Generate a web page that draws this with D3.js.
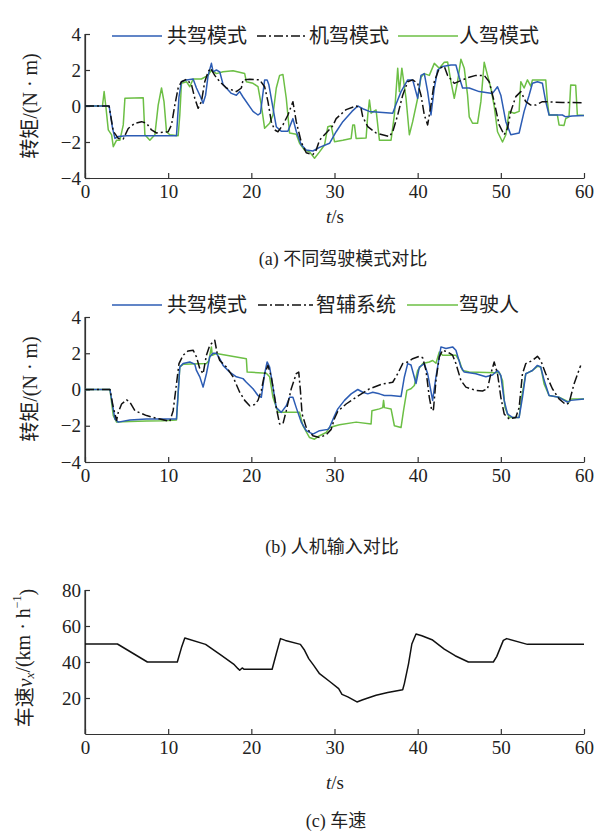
<!DOCTYPE html>
<html lang="en">
<head>
<meta charset="utf-8">
<title>转矩与车速对比</title>
<script src="https://d3js.org/d3.v7.min.js"></script>
<style>
  body { margin: 0; background: #fff; }
  .axis path, .axis line { stroke: #333; stroke-width: 1.2; }
</style>
</head>
<body>
<script>
// ---- data, each point is [t (s), value] ----
const xTicks = [0, 10, 20, 30, 40, 50, 60];
const torqueTicks = [-4, -2, 0, 2, 4];
const speedTicks = [20, 40, 60, 80];

const legendA = ["共驾模式", "机驾模式", "人驾模式"];
const legendB = ["共驾模式", "智辅系统", "驾驶人"];

// (a) 不同驾驶模式对比
const aShared = [[0,0],[2.9,0],[3.3,-1.2],[3.6,-1.8],[4.0,-1.7],[5,-1.65],[8,-1.65],[11,-1.65],[11.3,0.5],[11.6,1.35],[12.2,1.45],[13,1.5],[13.4,1.0],[13.9,0.5],[14.2,0.15],[14.5,0.6],[14.8,1.7],[15.2,2.37],[15.4,1.9],[15.8,2.0],[16.2,1.9],[16.6,1.2],[17.6,0.7],[18.2,0.6],[18.6,0.8],[19,0.5],[20.2,-0.3],[20.8,-0.5],[21.1,-0.4],[21.6,1.45],[21.9,1.45],[22.1,1.2],[22.6,-0.1],[23,-1.15],[23.6,-1.4],[24.4,-1.4],[25,-0.7],[25.4,-1.4],[26,-2.15],[26.6,-2.45],[27.4,-2.5],[28.2,-2.3],[29.4,-2.07],[30.2,-1.43],[31,-0.87],[32.1,-0.3],[32.8,0],[33.4,-0.15],[34.2,-0.3],[37,-0.4],[37.4,0.1],[38,0.8],[38.8,1.45],[39.4,1.45],[40,0.43],[40.4,1.7],[40.8,1.8],[41.2,0.8],[41.6,-0.5],[42,1.0],[42.4,2.0],[43,2.2],[44,2.28],[44.6,2.28],[45,1.6],[45.4,1.0],[46.2,1.0],[47.4,0.8],[49,0.7],[49.6,1.07],[50,0.6],[50.6,-0.87],[51.2,-1.6],[52.2,-1.5],[52.8,-0.3],[53.4,0.6],[53.8,1.26],[54.4,1.35],[55,1.26],[55.4,0.24],[55.8,-0.5],[57.4,-0.5],[57.8,-0.6],[58.6,-0.55],[60,-0.53]];
const aMachine = [[0,0],[2.9,0],[3.4,-1.4],[4,-1.8],[4.6,-1.83],[5.2,-1.25],[6,-0.96],[6.8,-0.87],[7.4,-0.96],[8,-1.33],[8.6,-1.5],[10,-1.43],[10.4,-1.05],[10.8,0.05],[11.2,1.0],[11.6,1.35],[12.2,1.48],[12.8,1.2],[13.2,0.43],[13.6,-0.13],[14,0.24],[14.4,1.35],[14.8,1.9],[15.1,2.1],[15.6,1.7],[16.2,1.35],[17,1.0],[18.2,0.8],[18.8,1.0],[19,1.45],[19.8,1.48],[21,1.45],[21.6,1.07],[22,0.24],[22.4,-0.87],[22.8,-1.33],[23.2,-1.43],[23.8,-1.05],[24.4,-0.5],[25,0.24],[25.4,-0.87],[26,-2.0],[26.6,-2.6],[27.4,-2.7],[27.8,-2.45],[28.2,-1.9],[29,-1.5],[29.8,-1.1],[30.2,-0.7],[31.4,-0.2],[32.6,0],[33.2,-0.15],[33.4,-0.6],[34,-1.15],[35,-1.5],[36.6,-1.7],[37,-1.43],[37.6,-0.5],[38.2,0.6],[38.8,1.35],[39.4,1.45],[40,1.26],[40.4,0.6],[40.8,-0.5],[41.2,-1.05],[41.6,0.05],[42,1.35],[42.6,2.1],[43.2,2.2],[43.6,1.7],[44.4,1.26],[45.4,1.45],[46.2,1.6],[47,1.7],[48,1.7],[48.6,1.35],[49.2,0.24],[49.8,-1.05],[50.4,-1.6],[50.8,-1.25],[51.2,-0.3],[51.8,0.52],[52.4,0.8],[53,0.24],[53.6,0.05],[54.2,0.05],[55,0.24],[57.4,0.2],[60,0.18]];
const aHuman = [[0,0],[2.1,0],[2.3,0.8],[2.5,0],[2.8,-1.33],[3.2,-1.6],[3.4,-2.26],[3.8,-1.9],[4.2,-1.9],[4.6,-1.05],[4.8,0.43],[7,0.46],[7.2,-1.6],[7.8,-1.9],[8.4,-1.6],[8.8,0.05],[9.2,1.0],[9.5,0.24],[9.8,-1.43],[10.2,-1.6],[11.2,-1.65],[11.4,-0.5],[11.6,1.26],[12.2,1.35],[12.6,1.07],[13,1.5],[14,1.5],[14.8,1.7],[15.2,2.0],[15.8,1.8],[16.6,1.9],[17.8,1.96],[19.2,1.8],[19.4,1.35],[20.2,1.26],[20.8,1.07],[21.2,0.05],[21.6,-1.24],[22.2,-0.96],[22.6,-0.5],[23,1.0],[23.4,1.7],[23.8,1.75],[24.2,0.43],[24.6,-1.5],[25.4,-1.57],[25.8,-2.07],[26.4,-2.45],[27,-2.55],[27.6,-2.9],[28.2,-2.55],[28.8,-2.17],[29.2,-1.15],[29.6,-1.1],[30,-1.98],[31,-1.9],[32,-1.8],[32.2,-1.05],[32.4,-1.05],[32.6,-1.8],[33.8,-1.78],[34,-0.5],[34.2,0.33],[34.4,-0.4],[35,-0.22],[35.4,-1.9],[36.8,-1.9],[37.2,-0.5],[37.6,2.1],[37.8,0.8],[38.1,2.1],[38.6,0.43],[39,-1.6],[39.4,-0.87],[40,0.43],[40.4,1.6],[40.8,1.8],[41.4,1.7],[42,2.37],[42.6,2.1],[43.2,2.43],[43.6,2.45],[44,1.35],[44.4,0.43],[44.8,1.35],[45.2,2.6],[45.6,2.1],[46,0.6],[46.2,-0.6],[46.6,-0.96],[47.2,-0.96],[47.6,0.24],[48,2.43],[48.4,1.7],[48.8,1.0],[49.2,0.0],[49.6,-1.43],[50.2,-2.0],[50.6,-1.6],[51,-0.3],[51.6,-0.4],[52.2,-0.3],[52.4,1.35],[52.8,1.0],[53.2,1.45],[53.6,1.1],[53.8,1.45],[55.4,1.45],[55.6,0.24],[55.8,-0.5],[56.8,-0.5],[57,-1.05],[57.6,-1.08],[57.8,-0.7],[58.2,-0.6],[58.4,1.17],[59,1.15],[59.2,-0.5],[60,-0.53]];

// (b) 人机输入对比
const bShared = [[0,0],[3,0],[3.6,-1.63],[4,-1.8],[5.4,-1.68],[7.4,-1.63],[11,-1.63],[11.4,1.24],[11.8,1.43],[12.6,1.52],[13.2,1.4],[13.4,1.05],[13.8,0.7],[14.2,0.13],[14.6,0.87],[15,1.8],[15.4,2.0],[15.8,2.0],[16.2,1.7],[16.6,1.33],[17.4,0.96],[18.2,0.7],[19,0.6],[19.4,0.4],[20.2,0.04],[20.8,-0.33],[21.2,-0.43],[21.6,0.87],[21.9,1.52],[22.2,1.24],[22.6,0.13],[23,-1.0],[23.6,-1.26],[24.2,-0.9],[24.6,-0.43],[25,-0.43],[25.4,-1.0],[26,-1.8],[26.6,-2.27],[27.4,-2.46],[28.2,-2.27],[29.2,-2.2],[29.4,-2.1],[30,-1.45],[30.4,-1.07],[31.2,-0.6],[32,-0.24],[32.8,0],[33.4,-0.15],[34,-0.24],[34.6,-0.15],[35.4,-0.24],[36,-0.33],[36.8,-0.33],[38,-0.39],[38.4,0.69],[38.8,1.43],[39.2,1.35],[39.8,0.33],[40.2,1.24],[40.8,1.43],[41.2,0.87],[41.8,-0.6],[42.2,0.7],[42.6,1.8],[42.8,2.35],[43.4,2.26],[44.2,2.35],[44.6,2.17],[45.2,1.24],[45.6,0.96],[47,0.87],[48.2,0.7],[49,0.8],[49.6,1.05],[50,0.78],[50.4,-0.6],[50.8,-1.35],[51.4,-1.54],[52.2,-1.54],[52.6,-0.43],[53,0.87],[53.4,0.96],[53.8,1.05],[54.4,1.33],[54.8,1.24],[55.2,0.52],[55.8,-0.33],[57,-0.43],[58,-0.7],[58.4,-0.6],[60,-0.52]];
const bAssist = [[0,0],[3,0],[3.4,-1.0],[3.8,-1.7],[4,-1.26],[4.4,-0.8],[5,-0.57],[5.4,-0.7],[6,-1.17],[7.4,-1.44],[9,-1.63],[10.2,-1.76],[10.6,-1.17],[11,0.31],[11.3,1.43],[11.8,1.89],[12.4,2.13],[13,2.17],[13.4,1.8],[13.8,1.15],[14.2,0.87],[14.6,1.89],[15,2.44],[15.6,2.72],[15.9,1.98],[16.2,1.6],[17,1.24],[17.8,0.7],[18.6,-0.15],[19.2,-0.6],[19.8,-0.9],[20.4,-0.83],[20.8,-0.6],[21.2,-0.05],[21.6,0.87],[22,1.33],[22.4,0.7],[23,-1.0],[23.4,-1.9],[23.8,-1.9],[24.2,-1.17],[24.8,0.04],[25.4,0.87],[25.7,0.96],[25.9,-0.05],[26.1,-1.35],[26.6,-2.09],[27.4,-2.55],[28.2,-2.65],[29,-2.5],[29.6,-2.2],[30,-1.6],[30.4,-1.2],[31.4,-0.8],[32.6,-0.43],[34.2,0.04],[35.8,0.31],[37,0.4],[37.6,0.87],[38.2,1.43],[38.8,1.52],[39.4,1.7],[40.2,1.83],[40.6,1.75],[41,1.05],[41.4,-0.43],[41.7,-1.17],[41.9,-1.1],[42.2,0.5],[42.6,1.8],[43,2.17],[43.6,2.07],[44.2,1.89],[44.6,1.43],[45.2,0.5],[45.8,0.13],[47,-0.05],[47.8,-0.08],[48.4,0.04],[48.8,0.87],[49.2,1.52],[49.6,0.87],[50,-0.43],[50.4,-1.35],[51,-1.63],[51.8,-1.54],[52.2,-1.0],[52.6,0.87],[53,1.43],[53.8,1.6],[54.4,1.83],[54.8,1.6],[55.4,0.87],[56.2,0.04],[57,-0.52],[57.8,-0.83],[58.2,-0.75],[58.8,0.31],[59.6,1.33]];
const bDriver = [[0,0],[3,0],[3.4,-1.44],[3.8,-1.8],[5.4,-1.76],[7.4,-1.74],[9.4,-1.72],[11,-1.68],[11.4,1.24],[11.8,1.39],[14.6,1.43],[14.9,1.6],[15.2,2.35],[15.3,1.89],[15.8,1.98],[19.4,1.7],[19.5,0.96],[21.8,0.9],[22.2,0.7],[22.6,-0.43],[23.2,-1.26],[25.8,-1.26],[26.2,-2.0],[27,-2.65],[27.6,-2.74],[28.2,-2.55],[29,-2.37],[29.4,-2.1],[30.6,-1.94],[32.6,-1.8],[34.4,-1.9],[34.5,-1.17],[35.4,-1.07],[35.8,-1.0],[35.9,-0.6],[36.0,-1.0],[36.8,-1.07],[37.2,-2.0],[38,-2.1],[38.3,-1.17],[38.7,-0.05],[39.2,0.04],[39.6,0.22],[40,1.05],[40.6,1.43],[41.4,1.52],[41.8,1.6],[42.2,1.45],[42.6,2.07],[43,1.89],[44.6,1.89],[45,1.6],[45.4,1.05],[46.2,0.96],[49.4,0.93],[49.8,0.96],[50.2,0.5],[50.5,-1.0],[51,-1.54],[52.2,-1.54],[52.5,-0.43],[53,0.87],[53.4,0.96],[53.8,1.05],[54.4,1.28],[54.8,1.24],[55.2,0.31],[55.8,-0.33],[57,-0.43],[57.8,-0.6],[58.2,-0.7],[58.4,-0.52],[60,-0.52]];

// (c) 车速 km/h
const speed = [[0,50],[3.9,50],[7.5,40],[11.1,40],[11.6,48],[12,53.3],[14.5,49.8],[16.4,43.7],[17.95,38.5],[18.4,36.3],[18.6,35.4],[18.9,36.7],[19.1,36],[22.5,36],[23,44.6],[23.5,53],[24.1,52],[25.9,49.8],[26.4,46.5],[26.9,41.9],[27.5,38.1],[28.2,33.5],[29.5,28.9],[30.5,25.2],[30.9,22],[31.6,20.6],[32.7,17.8],[33.4,19],[35,21.5],[36.4,23],[38.2,24.6],[38.4,28],[38.9,39],[39.3,50],[39.8,55.6],[40.5,54.6],[41.8,52.2],[43.2,47.2],[44.5,43.5],[46.1,40],[49.1,40],[49.5,43],[50.3,52],[50.7,53],[53.2,49.8],[60,49.8]];

// ---- drawing ----
const width = 598, height = 834;
const blue = "#2c5cb4", green = "#6cbf45", black = "#111";
const dashDot = "9,3,2,3";
const serif = "'Liberation Serif', Tinos, 'Times New Roman', Times, 'DejaVu Serif', 'Noto Sans CJK SC', serif";

const svg = d3.select("body").append("svg")
    .attr("width", width)
    .attr("height", height);

const x = d3.scaleLinear().domain([0, 60]).range([85, 584]);

function txt(sel) {
    return sel.style("font-family", serif).style("fill", "#222");
}

function axes(y, yTicks) {
    const bottom = y.range()[0];
    const gx = svg.append("g")
        .attr("class", "axis")
        .attr("transform", "translate(0," + bottom + ")")
        .call(d3.axisBottom(x).tickValues(xTicks).tickFormat(d3.format("d"))
            .tickSize(-5).tickSizeOuter(0).tickPadding(7));
    const gy = svg.append("g")
        .attr("class", "axis")
        .attr("transform", "translate(85,0)")
        .call(d3.axisLeft(y).tickValues(yTicks).tickFormat(d3.format("d"))
            .tickSize(-5).tickSizeOuter(0).tickPadding(4));
    txt(gx.selectAll("text")).style("font-size", "19px");
    txt(gy.selectAll("text")).style("font-size", "19px");
    // left axis covers the whole domain
    svg.append("line")
        .attr("x1", 85).attr("x2", 85)
        .attr("y1", y.range()[0]).attr("y2", y.range()[1])
        .attr("stroke", "#333").attr("stroke-width", 1.2);
}

function series(y, pts, color, dash) {
    const line = d3.line().x(d => x(d[0])).y(d => y(d[1]));
    svg.append("path")
        .datum(pts)
        .attr("d", line)
        .attr("fill", "none")
        .attr("stroke", color)
        .attr("stroke-width", 1.5)
        .attr("stroke-linejoin", "round")
        .attr("stroke-dasharray", dash || null);
}

function legend(yPos, names, items) {
    // items: [x1, x2, textX]
    const colors = [blue, black, green];
    names.forEach((n, i) => {
        const it = items[i];
        svg.append("line")
            .attr("x1", it[0]).attr("x2", it[1])
            .attr("y1", yPos).attr("y2", yPos)
            .attr("stroke", colors[i])
            .attr("stroke-width", 1.5)
            .attr("stroke-dasharray", i == 1 ? dashDot : null);
        txt(svg.append("text"))
            .attr("x", it[2]).attr("y", yPos)
            .attr("dominant-baseline", "central")
            .style("font-size", "20px")
            .text(n);
    });
}

function yTitle(cx, cy, parts) {
    const t = txt(svg.append("text"))
        .attr("transform", "translate(" + cx + "," + cy + ") rotate(-90)")
        .attr("text-anchor", "middle")
        .attr("dominant-baseline", "central")
        .style("font-size", "20px");
    parts.forEach(p => {
        const s = t.append("tspan").text(p.t);
        if (p.italic) s.style("font-style", "italic");
        if (p.size) s.style("font-size", p.size);
        if (p.dy) s.attr("dy", p.dy);
    });
}

function tLabel(yPos) {
    const t = txt(svg.append("text"))
        .attr("x", 335).attr("y", yPos)
        .attr("text-anchor", "middle")
        .style("font-size", "19px");
    t.append("tspan").style("font-style", "italic").text("t");
    t.append("tspan").text("/s");
}

function caption(cx, yPos, s) {
    txt(svg.append("text"))
        .attr("x", cx).attr("y", yPos)
        .attr("text-anchor", "middle")
        .style("font-size", "18px")
        .text(s);
}

// panel a
const yA = d3.scaleLinear().domain([-4, 4]).range([178, 34]);
axes(yA, torqueTicks);
series(yA, aHuman, green);
series(yA, aShared, blue);
series(yA, aMachine, black, dashDot);
legend(36, legendA, [[112, 162, 167], [257, 308, 309], [398, 458, 459]]);
yTitle(30, 106, [{t: "转矩/(N · m)"}]);
tLabel(223);
caption(343, 265, "(a) 不同驾驶模式对比");

// panel b
const yB = d3.scaleLinear().domain([-4, 4]).range([462, 317]);
axes(yB, torqueTicks);
series(yB, bDriver, green);
series(yB, bShared, blue);
series(yB, bAssist, black, dashDot);
legend(305, legendB, [[112, 162, 167], [258, 313, 316], [407, 458, 459]]);
yTitle(30, 389, [{t: "转矩/(N · m)"}]);
caption(332, 553, "(b) 人机输入对比");

// panel c
const yC = d3.scaleLinear().domain([0, 80]).range([734, 590]);
axes(yC, speedTicks);
series(yC, speed, black);
yTitle(25, 658, [
    {t: "车速"},
    {t: "v", italic: true},
    {t: "x", italic: true, size: "13px", dy: "0.3em"},
    {t: "/(km · h", dy: "-0.3em"},
    {t: "−1", size: "12px", dy: "-0.5em"},
    {t: ")", dy: "0.5em"}
]);
tLabel(789);
caption(336, 827, "(c) 车速");
</script>
</body>
</html>
